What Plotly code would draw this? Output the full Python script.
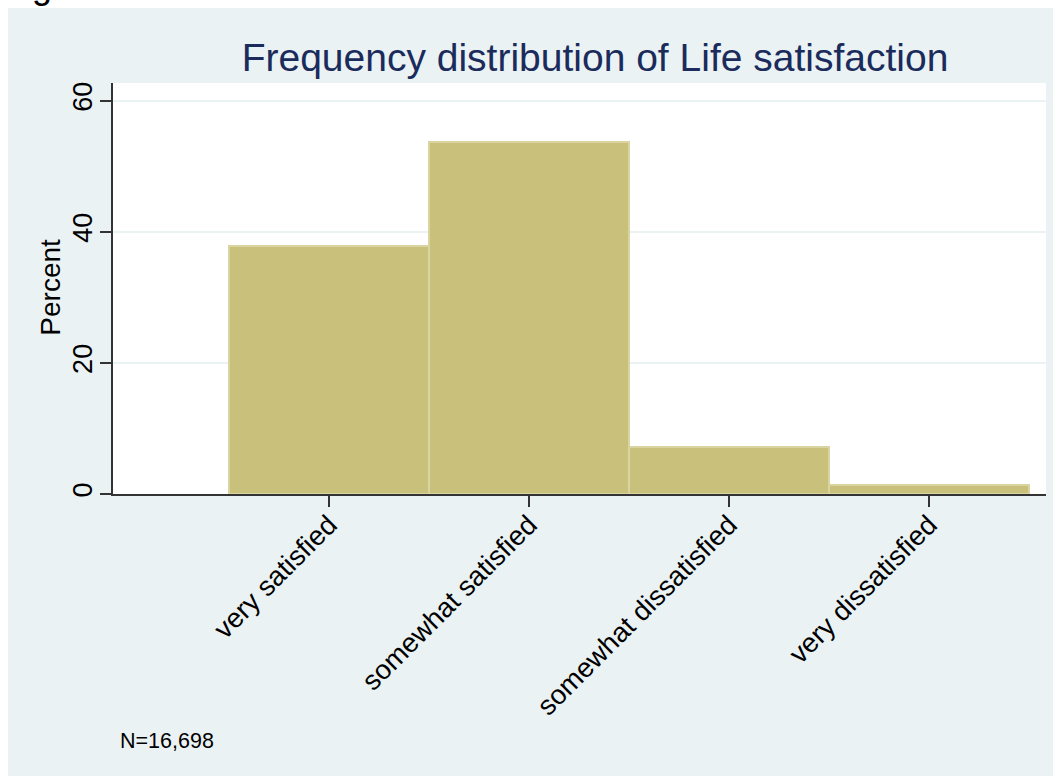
import plotly.graph_objects as go

categories = ["very satisfied", "somewhat satisfied", "somewhat dissatisfied", "very dissatisfied"]
percent = [37.8, 53.7, 7.2, 1.4]
y_ticks = [0, 20, 40, 60]
title_text = "Frequency distribution of Life satisfaction"
y_title = "Percent"
note_text = "N=16,698"
page_heading = "Figure"

# figure is drawn at page offset (8, 8) by the browser's body margin;
# the paper runs past the right and bottom edges of the window
W, H = 1075, 790
L, R, T, B = 105, 1038, 75, 485.7
FONT = "Liberation Sans, Arial, Helvetica, sans-serif"
BG = "#EAF2F3"

def px_x(px):
    return (px - L) / (R - L)

def px_y(py):
    return (B - py) / (B - T)

fig = go.Figure(go.Bar(
    x=categories, y=percent, width=1,
    marker=dict(color="#C9C07C", line=dict(color="#D9D4A0", width=2)),
))

fig.update_layout(
    width=W, height=H,
    margin=dict(l=L, r=W - R, t=T, b=H - B, pad=0),
    paper_bgcolor=BG, plot_bgcolor="white",
    bargap=0, showlegend=False,
    font=dict(family=FONT, color="black"),
    title=dict(text=title_text, x=587 / W, xref="container", xanchor="center",
               y=1 - 49 / H, yref="container", yanchor="middle",
               font=dict(family=FONT, size=39, color="#1A2B5C")),
    annotations=[
        dict(text=note_text, xref="paper", yref="paper", x=px_x(110), y=px_y(733),
             xanchor="left", yanchor="middle", showarrow=False,
             font=dict(family=FONT, size=21.5, color="black")),
        dict(text=y_title, xref="paper", yref="paper", x=px_x(43), y=px_y(279.5),
             xanchor="center", yanchor="middle", textangle=-90, showarrow=False,
             font=dict(family=FONT, size=28, color="black")),
    ],
)

fig.update_xaxes(
    type="category", range=[-1.08, 3.585],
    showline=True, linecolor="#333333", linewidth=1.5,
    ticks="outside", ticklen=11, tickcolor="#333333", tickwidth=1.5,
    tickangle=-45, tickfont=dict(family=FONT, size=27.5, color="black"),
    ticklabelstandoff=-9,
    showgrid=False, zeroline=False,
)
fig.update_yaxes(
    range=[0, 62.7], tickvals=y_ticks,
    showline=True, linecolor="#333333", linewidth=1.5,
    ticks="outside", ticklen=11, tickcolor="#333333", tickwidth=1.5,
    tickangle=-90, tickfont=dict(family=FONT, size=27, color="black"),
    ticklabelstandoff=-3,
    showgrid=True, gridcolor=BG, gridwidth=1.5, zeroline=False,
)

# page heading above the figure, mostly scrolled out of view as in the reference;
# hide the window scrollbars so the oversize paper reaches the window edges
heading_js = (
    "document.documentElement.style.overflow='hidden';"
    "var d=document.createElement('div');"
    "d.textContent=" + repr(page_heading) + ";"
    "d.style.cssText='position:absolute;left:2px;top:-32px;line-height:1;"
    "font-size:36px;font-family:Liberation Sans, Arial, sans-serif;color:black;';"
    "document.body.appendChild(d);"
)

fig.write_html("out.html", post_script=heading_js)
